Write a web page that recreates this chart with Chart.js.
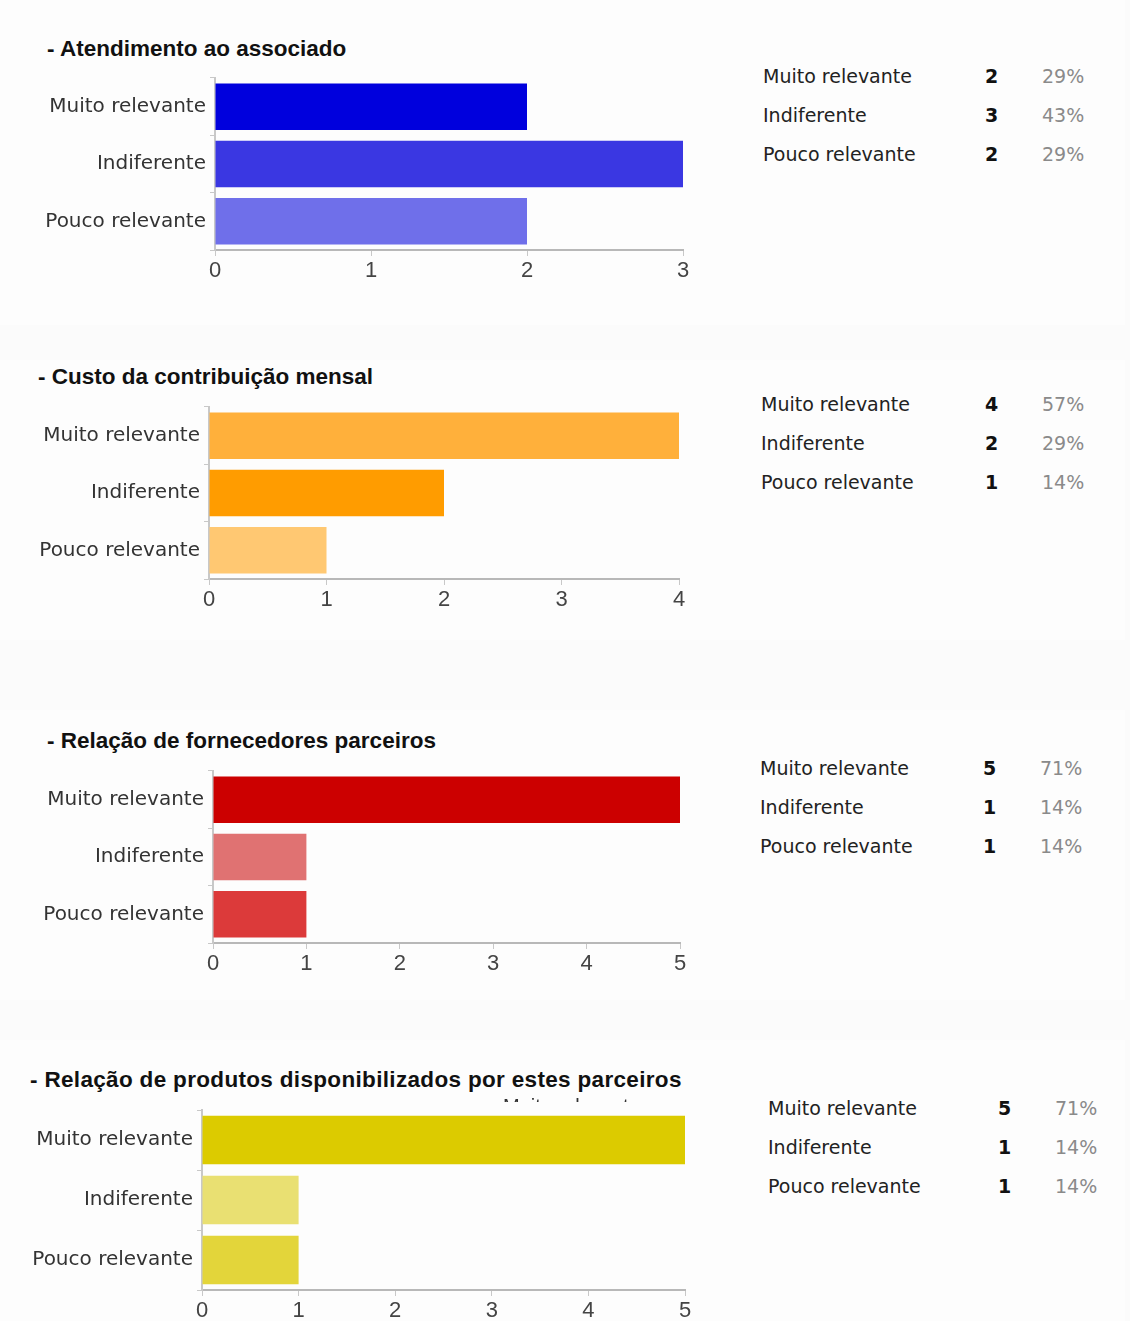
<!DOCTYPE html>
<html lang="pt-BR">
<head>
  <meta charset="UTF-8" />
  <title>Pesquisa - relevância</title>
  <script src="https://cdn.jsdelivr.net/npm/chart.js"></script>
  <style>
    body {
      margin: 0;
      width: 1130px;
      height: 1321px;
      position: relative;
      background: #fbfbfb;
      overflow: hidden;
      font-family: 'DejaVu Sans', sans-serif;
    }
    .painel { position: absolute; background: #fdfdfd; }
    .titulo {
      position: absolute;
      font-family: 'Liberation Sans', Arial, sans-serif;
      font-weight: bold;
      font-size: 22.5px;
      line-height: 24px;
      color: #111;
      white-space: nowrap;
    }
    canvas { position: absolute; left: 0; }
    .tabela {
      position: absolute;
      font-size: 19px;
      line-height: 39px;
      color: #222;
    }
    .tabela div { position: relative; height: 39px; white-space: nowrap; }
    .tabela .qtd { position: absolute; font-weight: bold; color: #111; }
    .tabela .pct { position: absolute; color: #8a8a8a; }
    .corte {
      position: absolute;
      overflow: hidden;
      height: 5px;
      font-family: 'Liberation Sans', Arial, sans-serif;
      font-size: 20px;
      color: #333;
    }
  </style>
</head>
<body>
  <div class="painel" style="left:0;top:0;width:1125px;height:325px"></div>
  <div class="painel" style="left:0;top:360px;width:1125px;height:280px"></div>
  <div class="painel" style="left:0;top:710px;width:1125px;height:290px"></div>
  <div class="painel" style="left:0;top:1040px;width:1125px;height:281px"></div>

  <div id="pagina"></div>
  <div class="corte" style="left:503px;top:1097px"><div style="margin-top:-2px">Muito relevante</div></div>

  <script>
    // dados
    const categorias = ['Muito relevante', 'Indiferente', 'Pouco relevante'];
    const titulos = [
      '- Atendimento ao associado',
      '- Custo da contribuição mensal',
      '- Relação de fornecedores parceiros',
      '- Relação de produtos disponibilizados por estes parceiros'
    ];
    const valoresAtendimento = [2, 3, 2];
    const valoresCusto = [4, 2, 1];
    const valoresFornecedores = [5, 1, 1];
    const valoresProdutos = [5, 1, 1];
    const maximosEixo = [3, 4, 5, 5];

    const coresAtendimento = ['#0000dd', '#3a37e2', '#6f6fea'];
    const coresCusto = ['#ffb03b', '#ff9c00', '#ffc872'];
    const coresFornecedores = ['#cc0000', '#e07272', '#dc3a3a'];
    const coresProdutos = ['#dccb00', '#e9e072', '#e3d53a'];

    // posições de cada bloco na página
    const blocos = [
      { valores: valoresAtendimento, cores: coresAtendimento, tx: 47, ty: 37, esp: 0, x0: 215, x1: 683, top: 78, bottom: 250, tabX: 763, tabY: 57, qtdX: 222, pctX: 279 },
      { valores: valoresCusto, cores: coresCusto, tx: 38, ty: 365, esp: 0, x0: 209, x1: 679, top: 407, bottom: 579, tabX: 761, tabY: 385, qtdX: 224, pctX: 281 },
      { valores: valoresFornecedores, cores: coresFornecedores, tx: 47, ty: 729, esp: 0, x0: 213, x1: 680, top: 771, bottom: 943, tabX: 760, tabY: 749, qtdX: 223, pctX: 280 },
      { valores: valoresProdutos, cores: coresProdutos, tx: 30, ty: 1068, esp: 0.33, x0: 202, x1: 685, top: 1110, bottom: 1290, tabX: 768, tabY: 1089, qtdX: 230, pctX: 287 }
    ];

    const pagina = document.getElementById('pagina');

    blocos.forEach((b, i) => {
      const t = document.createElement('div');
      t.className = 'titulo';
      t.style.left = b.tx + 'px';
      t.style.top = b.ty + 'px';
      t.style.letterSpacing = b.esp + 'px';
      t.textContent = titulos[i];
      pagina.appendChild(t);

      const total = b.valores.reduce((s, v) => s + v, 0);
      const tab = document.createElement('div');
      tab.className = 'tabela';
      tab.style.left = b.tabX + 'px';
      tab.style.top = b.tabY + 'px';
      categorias.forEach((c, k) => {
        const linha = document.createElement('div');
        linha.innerHTML = '<span>' + c + '</span>' +
          '<span class="qtd" style="left:' + b.qtdX + 'px">' + b.valores[k] + '</span>' +
          '<span class="pct" style="left:' + b.pctX + 'px">' + Math.round(b.valores[k] / total * 100) + '%</span>';
        tab.appendChild(linha);
      });
      pagina.appendChild(tab);

      const padTop = 22, alturaEixo = 45, padRight = 20;
      const cv = document.createElement('canvas');
      const w = b.x1 + padRight;
      const h = padTop + (b.bottom - b.top) + alturaEixo;
      cv.width = w; cv.height = h;
      cv.style.width = w + 'px'; cv.style.height = h + 'px';
      cv.style.top = (b.top - padTop) + 'px';
      pagina.appendChild(cv);

      new Chart(cv, {
        type: 'bar',
        data: {
          labels: categorias,
          datasets: [{
            data: b.valores,
            backgroundColor: b.cores,
            borderWidth: 0,
            categoryPercentage: 1,
            barPercentage: 0.81
          }]
        },
        options: {
          indexAxis: 'y',
          responsive: false,
          animation: false,
          layout: { padding: { top: padTop, right: padRight, left: 0, bottom: 0 } },
          plugins: { legend: { display: false }, tooltip: { enabled: false } },
          scales: {
            x: {
              min: 0,
              max: maximosEixo[i],
              ticks: { stepSize: 1, color: '#444', padding: 2, font: { family: 'Liberation Sans', size: 22 } },
              grid: { drawOnChartArea: false, tickLength: 6, color: '#c8c8c8' },
              border: { color: '#b8b8b8', width: 2 },
              afterFit: s => { s.height = alturaEixo; }
            },
            y: {
              ticks: { color: '#333', padding: 4, font: { family: 'DejaVu Sans', size: 20, lineHeight: 1.0 } },
              grid: { drawOnChartArea: false, tickLength: 5, color: '#c8c8c8' },
              border: { color: '#c8c8c8', width: 2 },
              afterFit: s => { s.width = b.x0; }
            }
          }
        }
      });
    });
  </script>
</body>
</html>
